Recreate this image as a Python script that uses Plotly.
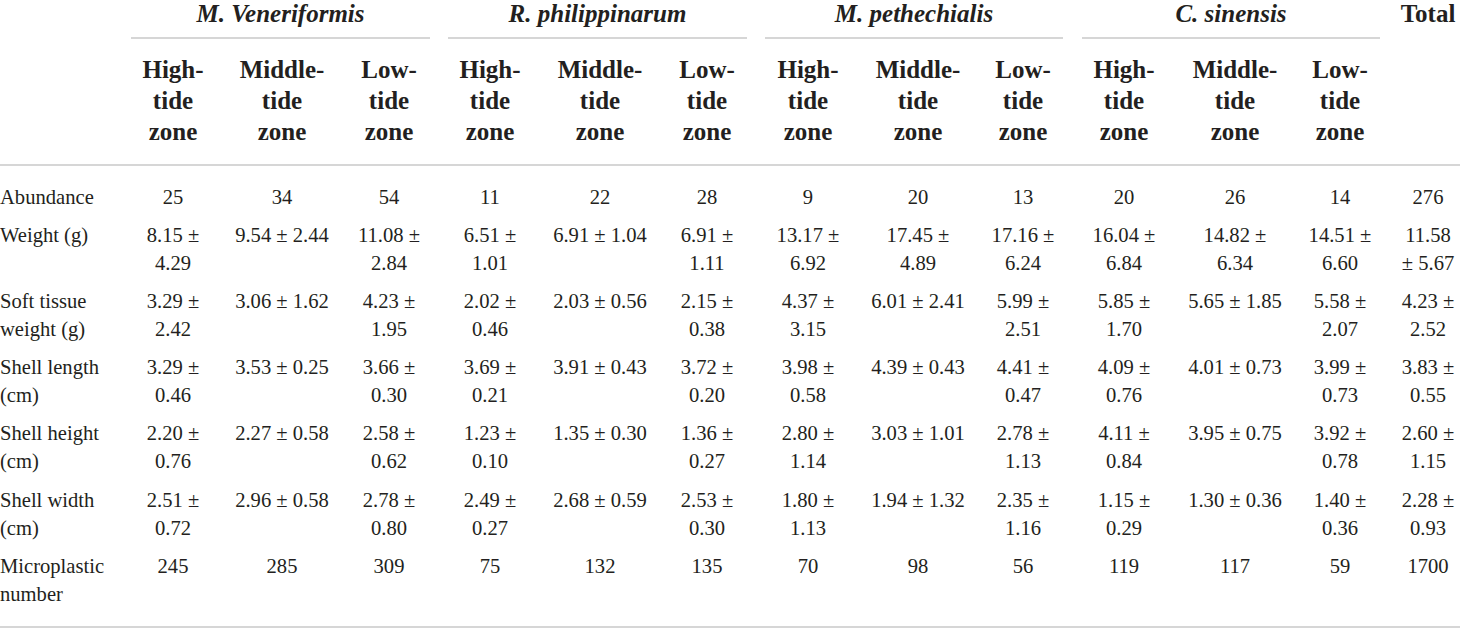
import plotly.graph_objects as go

# ---------------- data ----------------
species = ["M. Veneriformis", "R. philippinarum", "M. pethechialis", "C. sinensis"]
zones = ["High-tide zone", "Middle-tide zone", "Low-tide zone"]
total_label = "Total"
row_labels = ["Abundance", "Weight (g)", "Soft tissue\nweight (g)", "Shell length\n(cm)",
              "Shell height\n(cm)", "Shell width\n(cm)", "Microplastic\nnumber"]

abundance = [25, 34, 54, 11, 22, 28, 9, 20, 13, 20, 26, 14, 276]
weight_mean = [8.15, 9.54, 11.08, 6.51, 6.91, 6.91, 13.17, 17.45, 17.16, 16.04, 14.82, 14.51, 11.58]
weight_sd = [4.29, 2.44, 2.84, 1.01, 1.04, 1.11, 6.92, 4.89, 6.24, 6.84, 6.34, 6.60, 5.67]
soft_mean = [3.29, 3.06, 4.23, 2.02, 2.03, 2.15, 4.37, 6.01, 5.99, 5.85, 5.65, 5.58, 4.23]
soft_sd = [2.42, 1.62, 1.95, 0.46, 0.56, 0.38, 3.15, 2.41, 2.51, 1.70, 1.85, 2.07, 2.52]
length_mean = [3.29, 3.53, 3.66, 3.69, 3.91, 3.72, 3.98, 4.39, 4.41, 4.09, 4.01, 3.99, 3.83]
length_sd = [0.46, 0.25, 0.30, 0.21, 0.43, 0.20, 0.58, 0.43, 0.47, 0.76, 0.73, 0.73, 0.55]
height_mean = [2.20, 2.27, 2.58, 1.23, 1.35, 1.36, 2.80, 3.03, 2.78, 4.11, 3.95, 3.92, 2.60]
height_sd = [0.76, 0.58, 0.62, 0.10, 0.30, 0.27, 1.14, 1.01, 1.13, 0.84, 0.75, 0.78, 1.15]
width_mean = [2.51, 2.96, 2.78, 2.49, 2.68, 2.53, 1.80, 1.94, 2.35, 1.15, 1.30, 1.40, 2.28]
width_sd = [0.72, 0.58, 0.80, 0.27, 0.59, 0.30, 1.13, 1.32, 1.16, 0.29, 0.36, 0.36, 0.93]
microplastic = [245, 285, 309, 75, 132, 135, 70, 98, 56, 119, 117, 59, 1700]

# ---------------- layout ----------------
W, H = 1460, 628
FONT = "Liberation Serif"
TXT = "#231f20"
LINE = "#c8c8c8"
col_x = [173, 282, 389, 490, 600, 707, 808, 918, 1023, 1124, 1235, 1340, 1428]
group_span = [(131, 430), (448, 747), (765, 1063), (1082, 1380)]
row_y = [199, 237, 303, 369, 435, 502, 568]
line_gap = 28
body_size = 20.6
zone_size = 25
title_size = 25
title_y = 16

def cell_lines(mean, sd, col):
    m, s = f"{mean:.2f}", f"{sd:.2f}"
    if col == 12:
        if len(m) > 4:
            return [m, f"± {s}"]
        return [f"{m} ±", s]
    if col % 3 == 1 and len(m) <= 4:
        return [f"{m} ± {s}"]
    return [f"{m} ±", s]

xs, ys, ts = [], [], []
lx, ly, lt = [], [], []
for r, lab in enumerate(row_labels):
    for k, part in enumerate(lab.split("\n")):
        lx.append(0); ly.append(row_y[r] + k * line_gap); lt.append(part)

rows = [("int", abundance), ("ms", weight_mean, weight_sd), ("ms", soft_mean, soft_sd),
        ("ms", length_mean, length_sd), ("ms", height_mean, height_sd),
        ("ms", width_mean, width_sd), ("int", microplastic)]
for r, spec in enumerate(rows):
    for c in range(len(col_x)):
        if spec[0] == "int":
            parts = [str(spec[1][c])]
        else:
            parts = cell_lines(spec[1][c], spec[2][c], c)
        for k, p in enumerate(parts):
            xs.append(col_x[c]); ys.append(row_y[r] + k * line_gap); ts.append(p)

hx, hy, ht = [], [], []
for g in range(len(species)):
    for z, zname in enumerate(zones):
        parts = zname.replace("-", "-\n").replace(" ", "\n").split("\n")
        for k, p in enumerate(parts):
            hx.append(col_x[g * 3 + z]); hy.append(72 + k * 31); ht.append(p)

sx = [(a + b) / 2 for a, b in group_span]
sy = [title_y] * len(species)

fig = go.Figure()
fig.add_trace(go.Scatter(x=lx, y=ly, text=lt, mode="text", textposition="middle right",
                         cliponaxis=False,
                         textfont=dict(family=FONT, size=body_size, color=TXT), hoverinfo="skip"))
fig.add_trace(go.Scatter(x=xs, y=ys, text=ts, mode="text", textposition="middle center",
                         cliponaxis=False,
                         textfont=dict(family=FONT, size=body_size, color=TXT), hoverinfo="skip"))
fig.add_trace(go.Scatter(x=hx, y=hy, text=[f"<b>{t}</b>" for t in ht], mode="text",
                         textposition="middle center", cliponaxis=False,
                         textfont=dict(family=FONT, size=zone_size, color=TXT), hoverinfo="skip"))
fig.add_trace(go.Scatter(x=sx, y=sy, text=[f"<b><i>{t}</i></b>" for t in species], mode="text",
                         textposition="middle center", cliponaxis=False,
                         textfont=dict(family=FONT, size=title_size, color=TXT), hoverinfo="skip"))
fig.add_trace(go.Scatter(x=[col_x[12]], y=[title_y], text=[f"<b>{total_label}</b>"], mode="text",
                         textposition="middle center", cliponaxis=False,
                         textfont=dict(family=FONT, size=title_size, color=TXT), hoverinfo="skip"))

shapes = []
for a, b in group_span:
    shapes.append(dict(type="line", xref="x", yref="y", x0=a, x1=b, y0=38, y1=38,
                       line=dict(color=LINE, width=1.5)))
for yy in (165, 627):
    shapes.append(dict(type="line", xref="x", yref="y", x0=0, x1=W, y0=yy, y1=yy,
                       line=dict(color=LINE, width=1.5)))

fig.update_layout(
    width=W, height=H, margin=dict(l=0, r=0, t=0, b=0),
    paper_bgcolor="white", plot_bgcolor="white", showlegend=False, shapes=shapes,
    xaxis=dict(range=[0, W], visible=False, fixedrange=True),
    yaxis=dict(range=[H, 0], visible=False, fixedrange=True),
)
fig.write_html("out.html", config={"displayModeBar": False},
               post_script="document.body.style.margin='0';document.body.style.overflow='hidden';")
